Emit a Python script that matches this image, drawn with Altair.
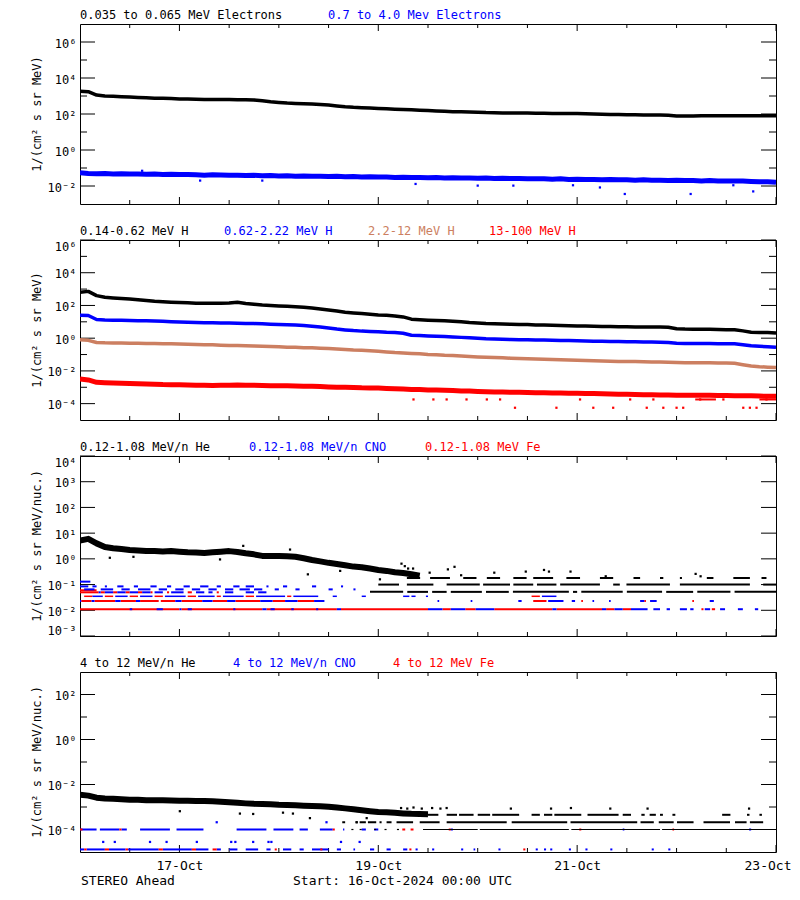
import altair as alt
import pandas as pd

# ---------------------------------------------------------------- data
HOURS = list(range(0, 169, 2))          # sample times, hours after 16-Oct-2024 00:00 UTC
HOURS_HE3 = HOURS[:42]                  # 0 .. 82 h
HOURS_HE4 = HOURS[:43]                  # 0 .. 84 h

# panel 1 : electrons
E_LO = [1820, 1740, 1120, 1000, 955, 912, 871, 832, 794, 759, 741, 724, 692, 676, 661, 646, 646,
        631, 631, 617, 617, 603, 550, 479, 437, 407, 389, 372, 355, 339, 316, 282, 251, 234, 224,
        214, 204, 195, 186, 178, 170, 162, 155, 148, 141, 135, 132, 129, 126, 120, 117, 115, 115,
        112, 112, 110, 110, 107, 107, 105, 105, 102, 100, 98, 95, 93, 91, 91, 89, 89, 87, 85, 78,
        78, 78, 79, 79, 79, 79, 79, 81, 79, 79, 79, 79]
E_HI = [0.054, 0.050, 0.048, 0.049, 0.047, 0.048, 0.046, 0.047, 0.045, 0.046,
        0.044, 0.045, 0.043, 0.044, 0.042, 0.040, 0.042, 0.041, 0.039, 0.040,
        0.038, 0.039, 0.037, 0.038, 0.036, 0.037, 0.035, 0.036, 0.035, 0.035,
        0.034, 0.035, 0.033, 0.034, 0.032, 0.033, 0.032, 0.032, 0.030, 0.031,
        0.030, 0.030, 0.029, 0.030, 0.028, 0.029, 0.028, 0.028, 0.027, 0.028,
        0.026, 0.027, 0.026, 0.026, 0.025, 0.025, 0.025, 0.024, 0.025, 0.023,
        0.024, 0.023, 0.023, 0.022, 0.023, 0.022, 0.022, 0.021, 0.022, 0.021,
        0.021, 0.020, 0.021, 0.020, 0.020, 0.019, 0.020, 0.019, 0.019, 0.019,
        0.019, 0.018, 0.017, 0.017, 0.016]
E_HI_OUT_H = [15, 29, 44, 81, 96, 104.6, 119, 125.5, 131.5, 147.4, 157.7, 162.5]
E_HI_OUT_V = [0.07, 0.02, 0.02, 0.013, 0.0105, 0.0105, 0.011, 0.0083, 0.0036, 0.0036, 0.011, 0.005]

# panel 2 : protons
H1 = [631, 724, 398, 316, 288, 263, 245, 224, 200, 178, 166, 158, 151, 145, 138, 135, 135, 135,
      141, 155, 132, 117, 105, 98, 93, 89, 83, 78, 69, 60, 52, 46, 39, 35, 32, 29, 26, 25, 23, 20,
      14.5, 13.5, 12.6, 12.0, 11.5, 11.0, 10.0, 9.1, 8.5, 7.9, 7.6, 7.4, 7.1, 6.9, 6.8, 6.5, 6.3,
      6.2, 6.0, 5.8, 5.6, 5.5, 5.4, 5.2, 5.1, 5.0, 5.0, 4.9, 4.9, 4.8, 4.8, 4.7, 3.8, 3.6, 3.5,
      3.5, 3.5, 3.4, 3.3, 3.3, 2.8, 2.3, 2.2, 2.2, 2.1]
H2 = [25, 24.5, 13.8, 12.9, 12.6, 12.3, 12.0, 11.7, 11.5, 11.2, 10.7, 10.2, 9.8, 9.5, 9.1, 8.9,
      8.7, 8.5, 8.5, 8.3, 7.9, 7.8, 7.6, 7.2, 6.9, 6.6, 6.3, 5.9, 5.4, 4.8, 4.2, 3.6, 3.2, 2.9,
      2.7, 2.6, 2.5, 2.3, 2.2, 2.0, 1.5, 1.45, 1.38, 1.32, 1.26, 1.2, 1.12, 1.05, 1.0, 0.93,
      0.89, 0.87, 0.83, 0.81, 0.79, 0.78, 0.78, 0.76, 0.72, 0.71, 0.69, 0.68, 0.66, 0.65, 0.63,
      0.62, 0.60, 0.60, 0.59, 0.58, 0.56, 0.55, 0.49, 0.48, 0.47, 0.47, 0.47, 0.46, 0.46, 0.45,
      0.40, 0.34, 0.32, 0.30, 0.28]
H3 = [0.79, 0.74, 0.55, 0.52, 0.51, 0.50, 0.49, 0.49, 0.48, 0.47, 0.46, 0.45, 0.44, 0.43, 0.41,
      0.40, 0.39, 0.37, 0.36, 0.355, 0.34, 0.33, 0.32, 0.31, 0.295, 0.28, 0.275, 0.26, 0.257,
      0.245, 0.234, 0.219, 0.204, 0.19, 0.182, 0.17, 0.158, 0.145, 0.132, 0.126, 0.117, 0.11,
      0.102, 0.098, 0.091, 0.087, 0.081, 0.076, 0.072, 0.069, 0.066, 0.063, 0.060, 0.058, 0.056,
      0.054, 0.052, 0.050, 0.048, 0.047, 0.045, 0.044, 0.042, 0.040, 0.039, 0.038, 0.038, 0.037,
      0.036, 0.035, 0.035, 0.034, 0.033, 0.032, 0.032, 0.032, 0.031, 0.030, 0.030, 0.029, 0.024,
      0.020, 0.018, 0.017, 0.016]
H4 = [0.0032, 0.0028, 0.0020, 0.0019, 0.0018, 0.00174, 0.0017, 0.00162, 0.00158, 0.00155,
      0.00148, 0.00145, 0.00141, 0.00138, 0.00135, 0.00132, 0.00129, 0.00132, 0.00135, 0.00138,
      0.00135, 0.00132, 0.00129, 0.00126, 0.00126, 0.00123, 0.0012, 0.00117, 0.00115, 0.0011,
      0.00105, 0.00102, 0.001, 0.00098, 0.00093, 0.00091, 0.00089, 0.00085, 0.00081, 0.00078,
      0.00074, 0.00072, 0.00069, 0.00068, 0.00065, 0.00063, 0.0006, 0.00059, 0.00056, 0.00054,
      0.00052, 0.00051, 0.0005, 0.00049, 0.00048, 0.00047, 0.00046, 0.00045, 0.00044, 0.00043,
      0.00043, 0.00042, 0.00041, 0.0004, 0.00039, 0.00038, 0.00037, 0.00036, 0.00035, 0.00035,
      0.00034, 0.00034, 0.00033, 0.00032, 0.00032, 0.00032, 0.00032, 0.00031, 0.00031, 0.0003,
      0.0003, 0.0003, 0.00029, 0.00028, 0.00028]
H4_LOW1_H = [80.5, 85.3, 88.5, 93.3, 98.2, 101.4, 120.7, 132.8, 138.4, 149.7, 155.3, 165.7]
H4_LOW1_SEGS = [[148.5, 153.5], [164, 168]]
H4_LOW2_H = [105, 115, 123.9, 128.7, 136.8, 140.8, 144, 145.6, 160.1, 161.7, 163.3]

# panel 3 : 0.12-1.08 MeV/n ions
HE3 = [5.2, 6.0, 4.0, 2.9, 2.6, 2.4, 2.2, 2.1, 2.0, 2.0, 1.95, 2.0, 1.9, 1.8, 1.75, 1.7, 1.8,
       1.9, 2.0, 1.85, 1.65, 1.5, 1.3, 1.3, 1.3, 1.25, 1.2, 1.05, 0.9, 0.8, 0.7, 0.63, 0.56, 0.5,
       0.47, 0.42, 0.37, 0.34, 0.3, 0.28, 0.25, 0.22]
HE3_PTS_H = [7.2, 12.9, 33.8, 39.4, 50.7, 55, 62.8, 72.4, 77.6, 78.4, 79.2, 80.4, 84.4, 88.8,
             90.4, 92, 100, 107.6, 112, 113.2, 118.4, 126.9, 148.6, 149.8]
HE3_PTS_V = [1.1, 1.2, 0.95, 3.2, 2.3, 0.25, 0.34, 0.16, 0.65, 0.52, 0.42, 0.42, 0.29, 0.39,
             0.49, 0.23, 0.29, 0.32, 0.37, 0.32, 0.32, 0.21, 0.26, 0.21]
HE3_ROW_005 = [[70, 78], [79, 84], [85, 88.5], [89.5, 97], [98, 103.5], [104.5, 118], [119, 120],
               [121, 131], [132, 140.5], [141.5, 148], [149, 157], [158, 168]]
HE3_ROW_01 = [[72, 77], [78.9, 85.3], [88.5, 96.5], [97.3, 103.8], [104.6, 109.4], [110.3, 115],
              [115.9, 125.5], [128.7, 130.3], [131.9, 142.4], [144.8, 161.7], [164.9, 168]]
HE3_ROW_018 = [[78.9, 82.1], [84.5, 89.3], [92.5, 95.7], [98.2, 101.4], [104.6, 107.8],
               [109.4, 114.2], [117.4, 120.7], [125.5, 128.7], [133.6, 135.2], [140, 140.8],
               [144.8, 145.3], [151.3, 152.9], [157.7, 161.7], [164.5, 165.7]]
FE3_ROW_0011 = [[0, 24], [24.5, 44], [45, 62], [63, 84], [87.5, 89.5], [93, 95.5], [100, 114],
                [115, 126], [127, 129], [131, 133], [150, 150.5], [152.5, 153.3]]
CNO3_ROW_0011 = [[12, 12.6], [18.5, 20], [24, 24.5], [26, 27], [37, 37.5], [44, 45], [46, 47],
                 [51, 51.6], [57, 57.5], [62, 63], [84, 87.5], [89.5, 93], [95.5, 100], [114, 115],
                 [126, 127], [129, 131], [133, 137], [138.4, 140], [141.6, 142.4], [144.8, 146.5],
                 [147.3, 148.1], [150.8, 152.1], [154.5, 155.7], [158.8, 160], [162.9, 163.7]]
FE3_ROW_0023 = [[0.3, 2.8], [3.5, 8.5], [9.8, 13.5], [14.5, 19], [19.5, 23], [24.5, 29.5],
                [32, 35.5], [37.5, 43.5], [46.5, 49.5], [52.5, 56.5], [109.4, 112.6],
                [121, 121.4], [136.2, 136.6], [147.8, 148.2]]
CNO3_ROW_0023 = [[0, 0.3], [2.8, 3.5], [8.5, 9.8], [13.5, 14.5], [23, 24.5], [29.5, 32],
                 [35.5, 37.5], [43.5, 46.5], [49.5, 52.5], [56.5, 59], [86.3, 86.7], [94.3, 94.7],
                 [105.8, 106.6], [113, 116.7], [118.7, 119.5], [123.7, 124.1], [127.7, 128.1],
                 [135.2, 136.2], [137.6, 139.2], [152, 153]]
FE3_ROW_0035 = [[1, 3], [6, 8], [12, 14], [18, 20], [26, 28], [33, 34], [40, 42], [50, 51],
                [109, 111]]
CNO3_ROW_0035 = [[3, 5.5], [8.5, 11.5], [14.5, 17.5], [20.5, 25.5], [28.5, 32.5], [34.5, 39.5],
                 [42.5, 49.5], [51.5, 57.5], [61, 62], [68, 69], [78, 79.5], [80, 81], [83.5, 84],
                 [111.5, 115]]
FE3_ROW_005 = [[0, 4.5], [5, 6], [8, 9], [11, 12], [14, 15], [17, 17.5], [21, 21.5], [26, 27],
               [33, 33.5]]
CNO3_ROW_005 = [[4.5, 5], [6, 8], [9, 11], [12, 14], [15, 17], [18, 20], [22, 25], [28, 30],
                [31, 32], [35, 37], [40, 42], [43, 45]]
FE3_ROW_006 = [[0, 4]]
CNO3_ROW_0065 = [[1, 3.5], [5, 8], [10, 12], [14, 17], [19, 21], [23, 25], [27, 29], [31, 33],
                 [35, 37], [38.5, 41], [42, 44], [47, 48], [52, 53], [60, 61], [66, 66.5]]
CNO3_ROW_0085 = [[0, 2], [3, 4], [6, 6.5], [9, 10.5], [13, 14], [17, 18.5], [21, 22], [25, 26.5],
                 [29, 31], [33, 34], [37, 38.5], [40, 42], [45, 45.5], [49, 50], [56, 57],
                 [63, 63.5]]
CNO3_ROW_013 = [[0, 2.5]]

# panel 4 : 4-12 MeV/n ions
HE4 = [0.0035, 0.0032, 0.0026, 0.0024, 0.0023, 0.0022, 0.0021, 0.0021, 0.0020, 0.0020,
       0.0020, 0.00195, 0.0019, 0.0019, 0.00186, 0.00186, 0.0018, 0.0017, 0.00162, 0.00155,
       0.00145, 0.00138, 0.00135, 0.00132, 0.00126, 0.00123, 0.0012, 0.00115, 0.00112, 0.00107,
       0.00102, 0.00095, 0.00087, 0.00079, 0.00071, 0.00065, 0.0006, 0.00058, 0.00055, 0.00052,
       0.0005, 0.00049, 0.00048]
HE4_PTS_H = [24.1, 38.6, 41.8, 49, 51.4, 55.5, 66.8, 69.2,
             77.5, 79, 80.5, 82.5, 85, 87, 88.5, 104, 113.7, 118.5, 128, 137, 161.5]
HE4_PTS_V = [0.00065, 0.00051, 0.00049, 0.00056, 0.00051, 0.00032, 0.00021, 0.00032,
             0.0009, 0.00085, 0.00095, 0.00085, 0.0009, 0.00085, 0.0009, 0.00085, 0.00085,
             0.0009, 0.00085, 0.00085, 0.00085]
HE4_ROW_45 = [[77, 82], [84, 86.5], [88.5, 91], [91.5, 95], [96, 99], [99.5, 106], [109, 111],
              [112, 114], [114.5, 121], [122.5, 130], [131, 133], [135.5, 136.3], [137.5, 139],
              [140, 140.7], [143, 143.7], [155, 157], [161, 161.6], [164, 164.6]]
HE4_ROW_21 = [[63.3, 64], [66.5, 67], [67.5, 69], [69.5, 71.5], [72.3, 72.8], [74, 75.2],
              [76.4, 80.4], [82, 86.8], [88.5, 103], [104.2, 117.6], [118.4, 134.5],
              [135.3, 138.5], [139.7, 143.3], [144.1, 148.1], [150.5, 156.9], [158.1, 160.9],
              [161.7, 164.9]]
HE4_ROW_10 = [[65.5, 66], [67.5, 68], [71, 71.5], [73.5, 74], [76.5, 77], [82.8, 96],
              [96.5, 118], [118.6, 140], [140.5, 168]]
CNO4_ROW_10 = [[0, 4], [4.8, 9.5], [10, 11.3], [14.5, 21.7], [23.3, 29.8], [37.8, 45],
               [46.7, 51.5], [53, 55], [57.9, 61], [63.5, 63.8], [68, 69], [71, 72], [89.5, 90],
               [131, 131.4], [161.5, 162]]
FE4_ROW_10 = [[0, 0.6], [9.5, 10], [61, 61.5], [77.8, 78.5], [79.8, 80.5], [89, 89.5],
              [120.5, 121], [143, 143.4]]
CNO4_ROW_013 = [[0, 1], [1.6, 6], [7, 11], [11.6, 19], [20, 27], [28, 31], [33, 34], [36, 38],
                [40, 43], [45, 46], [49, 51], [53, 54], [56, 60], [62, 63], [66, 66.4], [70, 71],
                [74, 75], [78, 79], [81, 81.5], [85, 85.5], [92, 92.5], [95, 95.4], [101, 101.5],
                [110, 110.5], [112, 112.5], [113.5, 114], [118, 118.5], [122, 122.5],
                [128, 128.5], [138, 138.5], [142, 142.5]]
FE4_ROW_013 = [[1, 1.6], [6, 7], [11, 11.6], [19, 20], [27, 28], [32, 33], [47, 47.5],
               [58, 58.5], [79.5, 80], [107, 107.5]]
CNO4_PTS_H = [5.6, 8.4, 16.9, 20.9, 28.2, 36.5, 37.5, 41.8, 45.5, 46.2, 63, 67.5, 33, 59.5]
CNO4_PTS_V = [2.8e-5] * 12 + [2.1e-4, 2.1e-4]

# --------------------------------------------------------------- styling
W, H = 696, 180
FONT = "DejaVu Sans Mono"
BLACK, BLUE, BROWN, RED = "#000000", "#0000ff", "#cc7f61", "#ff0000"
DUMMY = pd.DataFrame({"k": [0]})
XSC = alt.Scale(domain=[0, 168], nice=False, zero=False)
X_MAJOR = [24, 72, 120, 168]
X_MINOR = [12, 36, 48, 60, 84, 96, 108, 132, 144, 156]

SUP = "''+round(log(datum.value)/LN10)"
for a, b in [("-", "⁻"), ("0", "⁰"), ("1", "¹"), ("2", "²"), ("3", "³"), ("4", "⁴"),
             ("5", "⁵"), ("6", "⁶"), ("7", "⁷"), ("8", "⁸"), ("9", "⁹")]:
    SUP = f"replace({SUP},'{a}','{b}')"
LABEL_EXPR = "'10'+" + SUP


def line_df(hours, values):
    return pd.DataFrame({"h": hours, "v": values})


def seg_df(level, pairs):
    return pd.DataFrame({"h0": [p[0] for p in pairs], "h1": [p[1] for p in pairs],
                         "v": [level] * len(pairs)})


def text_layer(text, x, y, color=BLACK, size=12, baseline="alphabetic", align="left", angle=0):
    return alt.Chart(DUMMY).mark_text(
        text=text, color=color, font=FONT, fontSize=size, align=align, baseline=baseline,
        angle=angle).encode(x=alt.value(x), y=alt.value(y))


def panel(ydom, ymajor, yminor, ytitle, titles, data_layers, bottom=False):
    ysc = alt.Scale(type="log", domain=ydom, nice=False)
    yaxis = alt.Axis(values=ymajor, labelExpr=LABEL_EXPR, ticks=False, domain=False, grid=False,
                     labelPadding=4, labelFlush=True, labelFont=FONT, labelFontSize=12,
                     labelColor=BLACK, labelOffset=1, title=None)
    if bottom:
        xaxis = alt.Axis(values=X_MAJOR, labelExpr="(16 + datum.value/24) + '-Oct'",
                         ticks=False, domain=False, grid=False, labelPadding=7,
                         labelFlush=True, labelFlushOffset=15, labelOverlap=False,
                         labelFont=FONT, labelFontSize=13, labelColor=BLACK, title=None)
    else:
        xaxis = None

    def Y():
        return alt.Y("v:Q", scale=ysc, axis=yaxis)

    def X(field="h"):
        return alt.X(f"{field}:Q", scale=XSC, axis=xaxis)

    layers = []
    maj = pd.DataFrame({"v": ymajor})
    layers.append(alt.Chart(maj).mark_rule(color=BLACK).encode(
        y=Y(), x=alt.value(0), x2=alt.value(15)))
    layers.append(alt.Chart(maj).mark_rule(color=BLACK).encode(
        y=Y(), x=alt.value(W - 15), x2=alt.value(W)))
    if yminor:
        mnr = pd.DataFrame({"v": yminor})
        layers.append(alt.Chart(mnr).mark_rule(color=BLACK).encode(
            y=Y(), x=alt.value(0), x2=alt.value(7)))
        layers.append(alt.Chart(mnr).mark_rule(color=BLACK).encode(
            y=Y(), x=alt.value(W - 7), x2=alt.value(W)))
    xmaj = pd.DataFrame({"h": X_MAJOR})
    xmin = pd.DataFrame({"h": X_MINOR})
    layers.append(alt.Chart(xmaj).mark_rule(color=BLACK).encode(
        x=X(), y=alt.value(0), y2=alt.value(7)))
    layers.append(alt.Chart(xmaj).mark_rule(color=BLACK).encode(
        x=X(), y=alt.value(H - 7), y2=alt.value(H)))
    layers.append(alt.Chart(xmin).mark_rule(color=BLACK).encode(
        x=X(), y=alt.value(0), y2=alt.value(4)))
    layers.append(alt.Chart(xmin).mark_rule(color=BLACK).encode(
        x=X(), y=alt.value(H - 4), y2=alt.value(H)))

    for kind, df, color, width in data_layers:
        if kind == "line":
            layers.append(alt.Chart(df).mark_line(color=color, strokeWidth=width, clip=True,
                                                  strokeJoin="round").encode(x=X(), y=Y()))
        elif kind == "seg":
            layers.append(alt.Chart(df).mark_rule(color=color, strokeWidth=width, clip=True)
                          .encode(x=X("h0"), x2="h1:Q", y=Y()))
        elif kind == "pts":
            layers.append(alt.Chart(df).mark_square(color=color, size=width, opacity=1,
                                                    clip=True).encode(x=X(), y=Y()))

    for text, x, color in titles:
        layers.append(text_layer(text, x, -5, color))
    layers.append(text_layer(ytitle, -39, H / 2, align="center", angle=270))
    if bottom:
        layers.append(text_layer("STEREO Ahead", 1, H + 29, size=13, baseline="middle"))
        layers.append(text_layer("Start: 16-Oct-2024 00:00 UTC", 213, H + 29, size=13,
                                 baseline="middle"))
    return alt.layer(*layers).properties(width=W, height=H)


p1 = panel([1e-3, 1e7], [1e-2, 1, 1e2, 1e4, 1e6], [1e-1, 1e1, 1e3, 1e5], "1/(cm² s sr MeV)",
           [("0.035 to 0.065 MeV Electrons", 0, BLACK), ("0.7 to 4.0 Mev Electrons", 248, BLUE)],
           [("line", line_df(HOURS, E_LO), BLACK, 3.5),
            ("line", line_df(HOURS, E_HI), BLUE, 5),
            ("pts", line_df(E_HI_OUT_H, E_HI_OUT_V), BLUE, 5)])

p2 = panel([1e-5, 1e6], [1e-4, 1e-2, 1, 1e2, 1e4, 1e6], [1e-3, 1e-1, 1e1, 1e3, 1e5],
           "1/(cm² s sr MeV)",
           [("0.14-0.62 MeV H", 0, BLACK), ("0.62-2.22 MeV H", 144, BLUE),
            ("2.2-12 MeV H", 288, BROWN), ("13-100 MeV H", 409, RED)],
           [("line", line_df(HOURS, H1), BLACK, 3.5),
            ("line", line_df(HOURS, H2), BLUE, 3.5),
            ("line", line_df(HOURS, H3), BROWN, 3.5),
            ("line", line_df(HOURS, H4), RED, 5),
            ("pts", line_df(H4_LOW1_H, [1.8e-4] * len(H4_LOW1_H)), RED, 5),
            ("seg", seg_df(1.8e-4, H4_LOW1_SEGS), RED, 2),
            ("pts", line_df(H4_LOW2_H, [5.6e-5] * len(H4_LOW2_H)), RED, 5)])

p3 = panel([1e-3, 1e4], [1e-3, 1e-2, 1e-1, 1, 1e1, 1e2, 1e3, 1e4], [],
           "1/(cm² s sr MeV/nuc.)",
           [("0.12-1.08 MeV/n He", 0, BLACK), ("0.12-1.08 MeV/n CNO", 169, BLUE),
            ("0.12-1.08 MeV Fe", 345, RED)],
           [("line", line_df(HOURS_HE3, HE3), BLACK, 6),
            ("pts", line_df(HE3_PTS_H, HE3_PTS_V), BLACK, 5),
            ("seg", seg_df(0.052, HE3_ROW_005), BLACK, 2),
            ("seg", seg_df(0.1, HE3_ROW_01), BLACK, 2),
            ("seg", seg_df(0.18, HE3_ROW_018), BLACK, 2),
            ("seg", seg_df(0.011, FE3_ROW_0011), RED, 2),
            ("seg", seg_df(0.011, CNO3_ROW_0011), BLUE, 2),
            ("seg", seg_df(0.023, FE3_ROW_0023), RED, 2),
            ("seg", seg_df(0.023, CNO3_ROW_0023), BLUE, 2),
            ("seg", seg_df(0.035, FE3_ROW_0035), RED, 1.5),
            ("seg", seg_df(0.035, CNO3_ROW_0035), BLUE, 1.5),
            ("seg", seg_df(0.05, FE3_ROW_005), RED, 2),
            ("seg", seg_df(0.05, CNO3_ROW_005), BLUE, 2),
            ("seg", seg_df(0.06, FE3_ROW_006), RED, 2),
            ("seg", seg_df(0.065, CNO3_ROW_0065), BLUE, 2),
            ("seg", seg_df(0.085, CNO3_ROW_0085), BLUE, 2),
            ("seg", seg_df(0.13, CNO3_ROW_013), BLUE, 2)])

p4 = panel([1e-5, 1e3], [1e-4, 1e-2, 1, 1e2], [1e-3, 1e-1, 1e1], "1/(cm² s sr MeV/nuc.)",
           [("4 to 12 MeV/n He", 0, BLACK), ("4 to 12 MeV/n CNO", 153, BLUE),
            ("4 to 12 MeV Fe", 313, RED)],
           [("line", line_df(HOURS_HE4, HE4), BLACK, 6),
            ("pts", line_df(HE4_PTS_H, HE4_PTS_V), BLACK, 5),
            ("seg", seg_df(4.5e-4, HE4_ROW_45), BLACK, 2),
            ("seg", seg_df(2.1e-4, HE4_ROW_21), BLACK, 2),
            ("seg", seg_df(1.0e-4, CNO4_ROW_10), BLUE, 2),
            ("seg", seg_df(1.0e-4, FE4_ROW_10), RED, 2),
            ("seg", seg_df(1.0e-4, HE4_ROW_10), BLACK, 1.2),
            ("seg", seg_df(1.3e-5, CNO4_ROW_013), BLUE, 2),
            ("seg", seg_df(1.3e-5, FE4_ROW_013), RED, 2),
            ("pts", line_df(CNO4_PTS_H, CNO4_PTS_V), BLUE, 5)],
           bottom=True)

chart = alt.vconcat(p1, p2, p3, p4, spacing=36, bounds="flush").properties(
    padding={"left": 22, "top": 0, "right": 0, "bottom": -1}, background="white"
).configure_view(stroke=BLACK, strokeWidth=1)

chart.save("out.html", embed_options={"renderer": "svg", "actions": False})
